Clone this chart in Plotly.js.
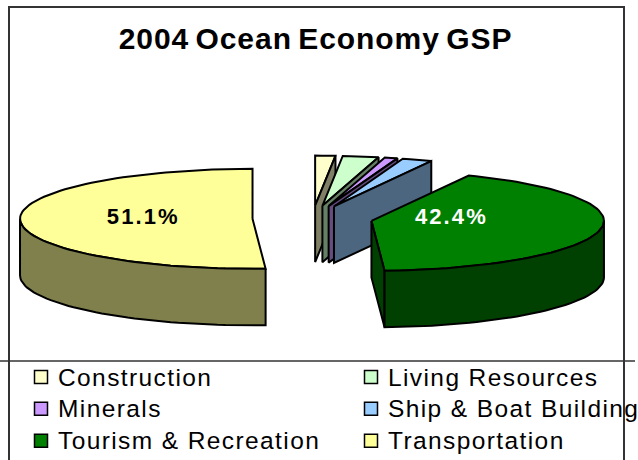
<!DOCTYPE html>
<html><head><meta charset="utf-8">
<script src="https://cdn.plot.ly/plotly-3.0.1.min.js"></script>
<style>
html,body{margin:0;padding:0;background:#fff;overflow:hidden;width:638px;height:460px}
#chart{width:700px;height:460px}
.legendtext{letter-spacing:1.4px;font-size:24.5px !important;transform:translateX(-3px)}
.gtitle{letter-spacing:.95px;word-spacing:-3px}
.textpoint text{letter-spacing:2.1px}
</style></head><body><div id="chart"></div>
<script>
// Data
const categories = ['Construction','Living Resources','Minerals','Ship & Boat Building','Tourism & Recreation','Transportation'];
const values = [1.4, 2.5, 0.9, 2.1, 42.4, 51.1];
const topColors = ['#FFFFCC','#CCFFCC','#CC99FF','#99CCFF','#008000','#FFFF99'];
const sideColors = ['#808066','#668066','#664D80','#4D6680','#004000','#80804D'];
const labelled = [false,false,false,false,true,true];
const labelColors = ['#000','#000','#000','#000','#fff','#000'];
const labelReach = [0,0,0,0,0.35,0.47];

// Projection of the tilted pie, in axis units
const W=700, H=460;
const cx=312.5, cy=218.5, rx=232.5, ry=50, depth=56.5, explode=60;
const rad=d=>d*Math.PI/180, total=values.reduce((a,b)=>a+b,0);
const traces=[];
function arc(c,a,b){const n=Math.max(2,Math.ceil(Math.abs(b-a)/2)),p=[];
  for(let i=0;i<=n;i++){const t=rad(a+(b-a)*i/n);p.push([c[0]+rx*Math.sin(t),c[1]-ry*Math.cos(t)]);}return p;}
function poly(pts,color){traces.push({type:'scatter',mode:'lines',x:pts.map(p=>p[0]),y:pts.map(p=>p[1]),
  fill:'toself',fillcolor:color,line:{color:'#000',width:2,shape:'linear'},hoverinfo:'skip',showlegend:false});}
const down=p=>[p[0],p[1]+depth];
let acc=0; const labX=[],labY=[],labT=[],labC=[];
categories.forEach((name,i)=>{
  const a1=acc/total*360; acc+=values[i]; const a2=acc/total*360, mid=rad((a1+a2)/2);
  const c=[cx+explode*Math.sin(mid), cy-explode*Math.cos(mid)*ry/rx];
  const top=arc(c,a1,a2);
  poly([c,...top,c],topColors[i]);
  if(a2<180){const e=top[top.length-1]; poly([c,e,down(e),down(c),c],sideColors[i]);}
  const r1=Math.max(a1,90), r2=Math.min(a2,270);
  if(r2>r1){const rim=arc(c,r1,r2); poly([...rim,...rim.slice().reverse().map(down),rim[0]],sideColors[i]);}
  if(labelled[i]){labX.push(c[0]+labelReach[i]*rx*Math.sin(mid));labY.push(cy);
    labT.push(values[i].toFixed(1)+'%');labC.push(labelColors[i]);}
});
traces.push({type:'scatter',mode:'text',x:labX,y:labY,text:labT,textposition:'middle center',
  textfont:{family:'Liberation Sans, Arial, sans-serif',size:22,color:labC,weight:700},hoverinfo:'skip',showlegend:false});
categories.forEach((name,i)=>traces.push({type:'scatter',mode:'markers',name:name,x:[null],y:[null],
  marker:{symbol:'square',size:13,color:topColors[i],line:{color:'#000',width:1.5}}}));

const seg=(x0,y0,x1,y1,w)=>({type:'line',xref:'x',yref:'y',x0,y0,x1,y1,line:{color:'#333',width:w||2},layer:'below'});
const layout={width:W,height:H,margin:{l:0,r:0,t:0,b:0,autoexpand:false},paper_bgcolor:'#fff',plot_bgcolor:'#fff',
  title:{text:'<b>2004 Ocean Economy GSP</b>',x:315.5/W,xanchor:'center',y:1-38/H,yanchor:'middle',automargin:false,
    font:{family:'Liberation Sans, Arial, sans-serif',size:30,color:'#000'}},
  xaxis:{range:[0,W],visible:false,fixedrange:true},
  yaxis:{range:[H,0],visible:false,fixedrange:true},
  shapes:[seg(9,7,9,460),seg(8,7,625,7),seg(624,7,624,460),seg(0,361,635,361,1.5)],
  legend:{orientation:'h',x:21/W,xanchor:'left',y:1-356/H,yanchor:'top',bgcolor:'rgba(0,0,0,0)',
    entrywidth:285,entrywidthmode:'pixels',itemwidth:30,traceorder:'normal',
    font:{family:'Liberation Sans, Arial, sans-serif',size:22.2,color:'#000'},itemclick:false,itemdoubleclick:false},
  showlegend:true};
Plotly.newPlot('chart',traces,layout,{displayModeBar:false,staticPlot:true});
</script></body></html>
